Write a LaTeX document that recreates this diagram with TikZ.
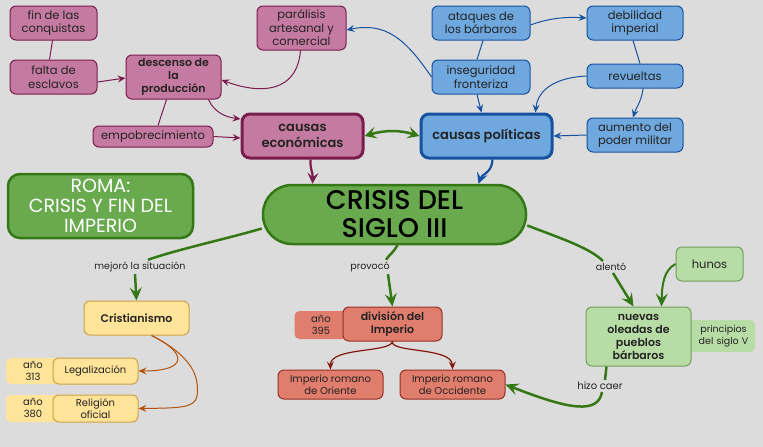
\documentclass[tikz,border=0pt]{standalone}
\usepackage{fontspec}
\setmainfont{Poppins}
\IfFontExistsTF{Poppins SemiBold}{\newfontfamily\semibold{Poppins SemiBold}}{\newcommand\semibold{\bfseries}}
\IfFontExistsTF{Poppins Medium}{\newfontfamily\medium{Poppins Medium}}{\newcommand\medium{}}
\usetikzlibrary{arrows.meta}
\definecolor{bggrey}{RGB}{220,220,220}
\definecolor{ecofill}{RGB}{197,122,162}
\definecolor{ecoline}{RGB}{122,28,76}
\definecolor{polfill}{RGB}{111,168,222}
\definecolor{polline}{RGB}{22,82,160}
\definecolor{crisgreen}{RGB}{106,170,78}
\definecolor{darkgreen}{RGB}{52,120,22}
\definecolor{lightgreen}{RGB}{184,220,166}
\definecolor{cristfill}{RGB}{255,228,153}
\definecolor{cristline}{RGB}{205,160,70}
\definecolor{cristarrow}{RGB}{180,82,12}
\definecolor{divfill}{RGB}{224,125,108}
\definecolor{divline}{RGB}{150,48,36}
\definecolor{divarrow}{RGB}{130,22,12}
\definecolor{inktext}{RGB}{35,35,35}

\begin{document}
\begin{tikzpicture}[x=1pt, y=-1pt,
  every node/.style={text=inktext, inner sep=1pt},
  box/.style={rectangle, rounded corners=6pt, draw, line width=1pt, align=center, font=\fontsize{11.5}{13.5}\selectfont},
  ecobox/.style={box, draw=ecoline, fill=ecofill},
  polbox/.style={box, draw=polline, fill=polfill},
  causebox/.style={rounded corners=8pt, line width=3pt, font=\fontsize{13}{16}\selectfont\semibold},
  cristbox/.style={box, draw=cristline, fill=cristfill, font=\fontsize{10}{12}\selectfont},
  divbox/.style={box, draw=divline, fill=divfill, font=\fontsize{10}{12}\selectfont},
  tab/.style={rectangle, rounded corners=5pt, align=center, font=\fontsize{10}{12}\selectfont},
  linklabel/.style={font=\fontsize{9.5}{11}\selectfont, inner sep=2pt},
  ecoarrow/.style={-{Stealth[length=8pt, width=7pt, inset=3pt]}, ecoline, line width=1pt},
  polarrow/.style={-{Stealth[length=8pt, width=7pt, inset=3pt]}, polline, line width=1pt},
  causearrow/.style={-{Stealth[length=11pt, width=11pt, inset=4.5pt]}, line width=2.2pt},
  greenarrow/.style={-{Stealth[length=13pt, width=12pt, inset=5pt]}, darkgreen, line width=2.5pt},
  cristlink/.style={-{Stealth[length=8pt, width=7pt, inset=3pt]}, cristarrow, line width=1pt},
  divlink/.style={-{Stealth[length=8pt, width=7pt, inset=3pt]}, divarrow, line width=1.2pt}
]
\fill[bggrey] (0,0) rectangle (763,447);
\useasboundingbox (0,0) rectangle (763,447);

% causas economicas
\node[ecobox, minimum width=87pt, minimum height=34pt] (conq) at (53.5,23) {fin de las\\conquistas};
\node[ecobox, minimum width=87pt, minimum height=34pt] (escl) at (53.5,77) {falta de\\esclavos};
\node[ecobox, minimum width=95pt, minimum height=44pt, font=\fontsize{11}{13}\selectfont\semibold] (desc) at (173.5,77) {descenso de\\la\\producción};
\node[ecobox, minimum width=120pt, minimum height=21pt] (empob) at (153,136.5) {empobrecimiento};
\node[ecobox, minimum width=89pt, minimum height=44pt] (paral) at (301.5,28) {parálisis\\artesanal y\\comercial};
\node[ecobox, causebox, minimum width=121pt, minimum height=44pt] (eco) at (302.5,136) {causas\\económicas};

% causas politicas
\node[polbox, minimum width=98pt, minimum height=34pt] (ataq) at (481,23) {ataques de\\los bárbaros};
\node[polbox, minimum width=96pt, minimum height=34pt] (debil) at (635,23) {debilidad\\imperial};
\node[polbox, minimum width=98pt, minimum height=34pt] (insegur) at (481,77) {inseguridad\\fronteriza};
\node[polbox, minimum width=96pt, minimum height=24pt] (revu) at (635,76) {revueltas};
\node[polbox, minimum width=96pt, minimum height=34pt] (aumen) at (635,135) {aumento del\\poder militar};
\node[polbox, causebox, minimum width=131pt, minimum height=44pt] (pol) at (486.5,136) {causas políticas};

% titulos
\node[rectangle, rounded corners=12pt, draw=darkgreen, line width=2.5pt, fill=crisgreen, minimum width=185pt, minimum height=64pt, align=center, text=white, font=\fontsize{19}{20}\selectfont] (roma) at (100.5,206) {ROMA:\\CRISIS Y FIN DEL\\IMPERIO};
\node[rectangle, rounded corners=29pt, draw=darkgreen, line width=2.5pt, fill=crisgreen, minimum width=263pt, minimum height=59pt, align=center, text=black, font=\fontsize{27}{28}\selectfont\medium] (crisis) at (394.5,214.5) {CRISIS DEL\\SIGLO III};

% consecuencias
\node[cristbox, minimum width=105pt, minimum height=34pt, font=\fontsize{11}{13}\selectfont\semibold] (crist) at (136.5,318) {Cristianismo};
\node[tab, fill=cristfill, minimum width=54pt, minimum height=26pt, text width=40pt] (a313) at (33,371) {año\\313};
\node[cristbox, minimum width=85pt, minimum height=26pt] (legal) at (95.5,371) {Legalización};
\node[tab, fill=cristfill, minimum width=54pt, minimum height=27pt, text width=40pt] (a380) at (33,408.5) {año\\380};
\node[cristbox, minimum width=85pt, minimum height=27pt] (relig) at (95.5,408.5) {Religión\\oficial};

\node[tab, fill=divfill, minimum width=53pt, minimum height=28pt, text width=40pt] (a395) at (321,325) {año\\395};
\node[divbox, minimum width=99pt, minimum height=34pt, font=\fontsize{11}{13}\selectfont\semibold] (divis) at (392.5,324) {división del\\Imperio};
\node[divbox, minimum width=105pt, minimum height=29pt] (orien) at (330.5,384.5) {Imperio romano\\de Oriente};
\node[divbox, minimum width=105pt, minimum height=29pt] (occid) at (452.5,384.5) {Imperio romano\\de Occidente};

\node[tab, fill=lightgreen, minimum width=69pt, minimum height=32pt, text width=64pt, font=\fontsize{9.5}{11.5}\selectfont] (siglov) at (720.5,336) {\hspace*{6pt}principios\\\hspace*{6pt}del siglo V};
\node[box, draw=darkgreen!70, fill=lightgreen, minimum width=105pt, minimum height=59pt, font=\fontsize{11}{13}\selectfont\semibold] (oleadas) at (638.5,336.5) {nuevas\\oleadas de\\pueblos\\bárbaros};
\node[box, draw=darkgreen!70, fill=lightgreen, minimum width=67pt, minimum height=34pt] (hunos) at (709.5,264) {hunos};

% etiquetas
\node[linklabel] (mejoro) at (140,267) {mejoró la situación};
\node[linklabel] (provoco) at (370,267) {provocó};
\node[linklabel] (alento) at (611,267) {alentó};
\node[linklabel, font=\fontsize{10}{12}\selectfont] (hizo) at (600,386) {hizo caer};

% conectores economicos
\draw[ecoline, line width=1pt] ([xshift=-1pt]conq.south) -- ([xshift=-4pt]escl.north);
\draw[ecoarrow] ([yshift=-5pt]escl.east) -- ([yshift=-1pt]desc.west);
\draw[ecoline, line width=1pt] ([xshift=-7pt]desc.south) -- ([xshift=5pt]empob.north);
\draw[ecoarrow] (empob.east) -- ([yshift=-2pt]eco.west);
\draw[ecoarrow] ([xshift=35pt]desc.south) .. controls (214,112) and (225,117) .. ([yshift=17pt]eco.west);
\draw[ecoarrow] ([xshift=-1pt]paral.south) .. controls (297,92) and (262,95) .. ([yshift=-3pt]desc.east);
\draw[causearrow, ecoline] ([xshift=8pt]eco.south) .. controls (310,170) and (313,172) .. ([xshift=-82pt]crisis.north);

% conectores politicos
\draw[polarrow] (insegur.west) .. controls (405,38) and (385,22) .. ([yshift=-2pt]paral.east);
\draw[polline, line width=1pt] ([xshift=2pt]ataq.south) -- ([xshift=-4pt]insegur.north);
\draw[polarrow] ([xshift=-4pt]insegur.south) -- ([xshift=-5pt]pol.north);
\draw[polarrow] ([yshift=-2pt]ataq.east) .. controls (552,17) and (570,17) .. ([yshift=5pt]debil.west);
\draw[polline, line width=1pt] ([xshift=-2pt]debil.south) -- ([xshift=5pt]revu.north);
\draw[polarrow] (revu.west) .. controls (548,78) and (537,95) .. ([xshift=49pt]pol.north);
\draw[polarrow] ([xshift=8pt]revu.south) .. controls (642,100) and (636,108) .. ([xshift=-2pt]aumen.north);
\draw[polarrow] (aumen.west) -- (pol.east);
\draw[causearrow, polline] ([xshift=6pt]pol.south) .. controls (492,173) and (482,174) .. ([xshift=84pt]crisis.north);

\draw[{Stealth[length=12pt, width=12pt, inset=5pt]}-{Stealth[length=12pt, width=12pt, inset=5pt]}, darkgreen, line width=2.5pt] (eco.east) .. controls (385,130) and (400,130) .. (pol.west);

% conectores de la crisis
\draw[darkgreen, line width=2.5pt] ([yshift=-14pt]crisis.west) .. controls (230,238) and (175,250) .. ([xshift=8pt]mejoro.north);
\draw[greenarrow] ([xshift=-5pt]mejoro.south) -- (crist.north);
\draw[darkgreen, line width=2.5pt] ([xshift=3pt]crisis.south) .. controls (394,252) and (388,256) .. ([xshift=16pt]provoco.north);
\draw[greenarrow] ([xshift=18pt]provoco.south) -- (divis.north);
\draw[darkgreen, line width=2.5pt] ([yshift=-11pt]crisis.east) .. controls (560,238) and (590,248) .. ([xshift=-8pt]alento.north);
\draw[greenarrow] ([xshift=2pt]alento.south) -- ([xshift=-5pt]oleadas.north);
\draw[greenarrow, line width=2pt] (hunos.west) .. controls (664,270) and (662,284) .. ([xshift=23pt]oleadas.north);
\draw[darkgreen, line width=2.5pt] ([xshift=-32pt]oleadas.south) -- ([xshift=5pt]hizo.north);
\draw[greenarrow] ([xshift=2pt]hizo.south) .. controls (598,414) and (570,410) .. (occid.east);

% cristianismo y division
\draw[cristlink] ([xshift=15pt]crist.south) .. controls (186,352) and (190,371) .. (legal.east);
\draw[cristlink] ([xshift=15pt]crist.south) .. controls (190,355) and (200,375) .. (197,396) .. controls (195,408) and (180,408) .. (relig.east);
\draw[divlink] (divis.south) .. controls (390,353) and (330,347) .. (orien.north);
\draw[divlink] (divis.south) .. controls (390,353) and (452,347) .. (occid.north);
\end{tikzpicture}
\end{document}
